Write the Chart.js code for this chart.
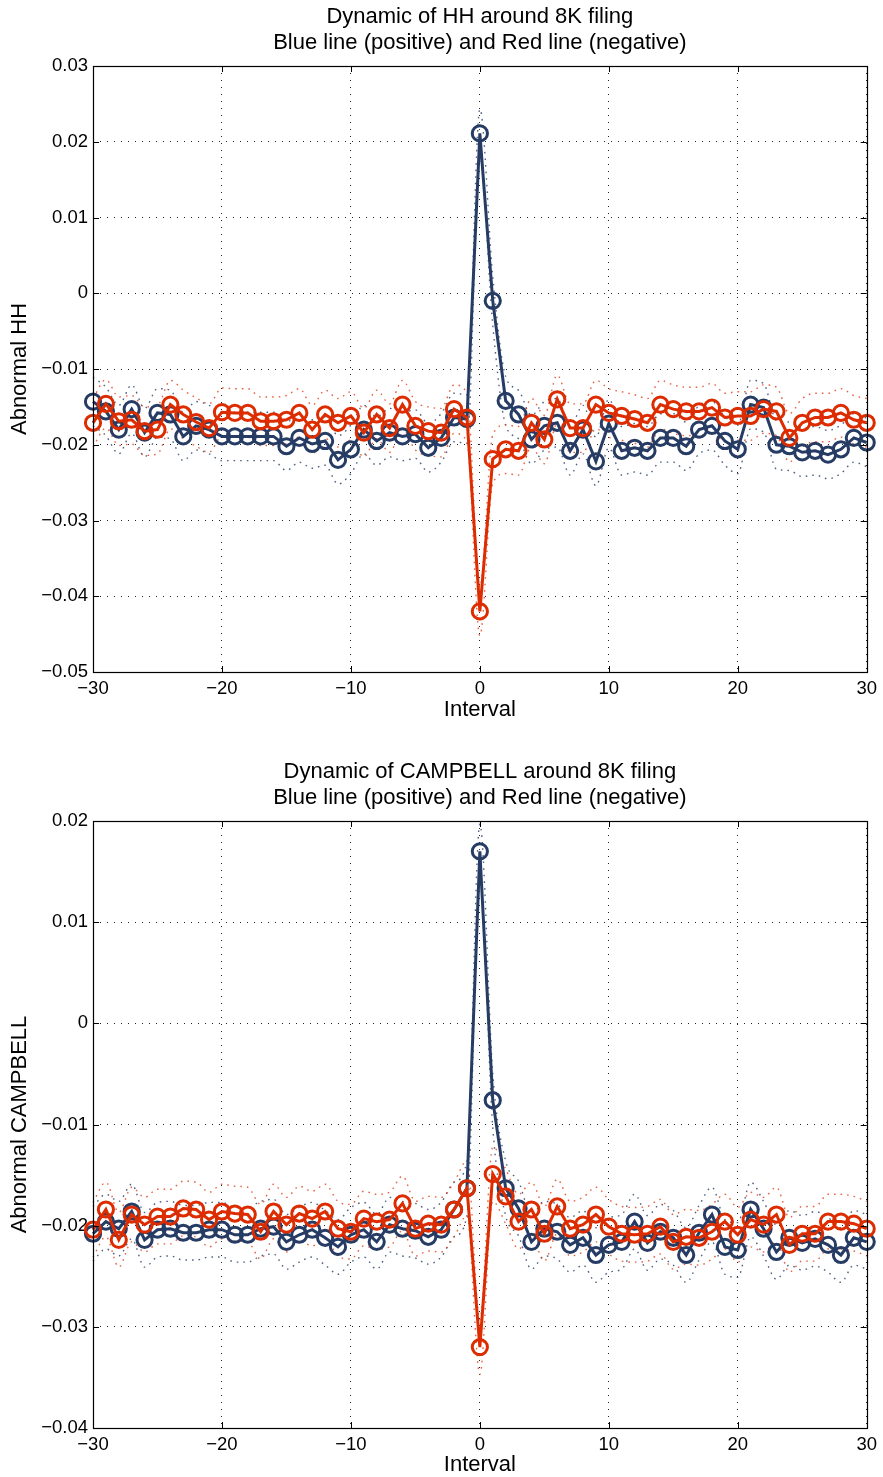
<!DOCTYPE html>
<html>
<head>
<meta charset="utf-8">
<script src="https://cdn.jsdelivr.net/npm/chart.js@4.4.1/dist/chart.umd.min.js"></script>
<style>
  html, body { margin: 0; padding: 0; background: #ffffff; }
  body { width: 883px; height: 1477px; position: relative; overflow: hidden; }
  .wrap { position: absolute; left: 0; width: 883px; height: 722px; }
  #w1 { top: 0px; }
  #w2 { top: 755px; }
</style>
</head>
<body>
<div class="wrap" id="w1"><canvas id="c1"></canvas></div>
<div class="wrap" id="w2"><canvas id="c2"></canvas></div>
<script>
// ---------- data ----------
const intervals = [-30,-29,-28,-27,-26,-25,-24,-23,-22,-21,-20,-19,-18,-17,-16,-15,-14,-13,-12,-11,-10,-9,-8,-7,-6,-5,-4,-3,-2,-1,0,1,2,3,4,5,6,7,8,9,10,11,12,13,14,15,16,17,18,19,20,21,22,23,24,25,26,27,28,29,30];
const xTickValues = [-30, -20, -10, 0, 10, 20, 30];
const hhYTickValues = [-0.05, -0.04, -0.03, -0.02, -0.01, 0, 0.01, 0.02, 0.03];
const cbYTickValues = [-0.04, -0.03, -0.02, -0.01, 0, 0.01, 0.02];

const hhTitle = ['Dynamic of HH around 8K filing', 'Blue line (positive) and Red line (negative)'];
const cbTitle = ['Dynamic of CAMPBELL around 8K filing', 'Blue line (positive) and Red line (negative)'];

// HH (top chart)
const hhBlue = [-0.0143,-0.0156,-0.0180,-0.0153,-0.0184,-0.0158,-0.0160,-0.0189,-0.0175,-0.0180,
  -0.0189,-0.0189,-0.0189,-0.0189,-0.0189,-0.0202,-0.0191,-0.0199,-0.0195,-0.0220,
  -0.0206,-0.0180,-0.0195,-0.0184,-0.0189,-0.0186,-0.0204,-0.0191,-0.0164,-0.0166,
  0.0211,
  -0.0010,-0.0142,-0.0160,-0.0193,-0.0175,-0.0171,-0.0208,-0.0180,-0.0222,-0.0172,
  -0.0208,-0.0204,-0.0208,-0.0191,-0.0191,-0.0202,-0.0180,-0.0175,-0.0195,-0.0206,
  -0.0147,-0.0151,-0.0200,-0.0202,-0.0210,-0.0208,-0.0213,-0.0206,-0.0191,-0.0197];
const hhRed = [-0.0171,-0.0146,-0.0169,-0.0167,-0.0182,-0.0180,-0.0147,-0.0160,-0.0170,-0.0178,
  -0.0157,-0.0158,-0.0158,-0.0169,-0.0169,-0.0167,-0.0158,-0.0180,-0.0160,-0.0171,
  -0.0162,-0.0184,-0.0160,-0.0178,-0.0147,-0.0175,-0.0182,-0.0184,-0.0153,-0.0164,
  -0.0420,
  -0.0219,-0.0206,-0.0208,-0.0171,-0.0193,-0.0140,-0.0178,-0.0178,-0.0147,-0.0158,
  -0.0162,-0.0166,-0.0171,-0.0147,-0.0153,-0.0156,-0.0156,-0.0151,-0.0164,-0.0162,
  -0.0162,-0.0153,-0.0156,-0.0191,-0.0171,-0.0164,-0.0164,-0.0158,-0.0167,-0.0171];
const hhBlueHi = [-0.0111,-0.0124,-0.0148,-0.0121,-0.0152,-0.0126,-0.0128,-0.0157,-0.0143,-0.0148,
  -0.0157,-0.0157,-0.0157,-0.0157,-0.0157,-0.0170,-0.0159,-0.0167,-0.0163,-0.0188,
  -0.0174,-0.0148,-0.0163,-0.0152,-0.0157,-0.0154,-0.0172,-0.0159,-0.0132,-0.0134,
  0.0243,
  0.0022,-0.0110,-0.0128,-0.0161,-0.0143,-0.0139,-0.0176,-0.0148,-0.0190,-0.0140,
  -0.0176,-0.0172,-0.0176,-0.0159,-0.0159,-0.0170,-0.0148,-0.0143,-0.0163,-0.0174,
  -0.0115,-0.0119,-0.0168,-0.0170,-0.0178,-0.0176,-0.0181,-0.0174,-0.0159,-0.0165];
const hhBlueLo = [-0.0175,-0.0188,-0.0212,-0.0185,-0.0216,-0.0190,-0.0192,-0.0221,-0.0207,-0.0212,
  -0.0221,-0.0221,-0.0221,-0.0221,-0.0221,-0.0234,-0.0223,-0.0231,-0.0227,-0.0252,
  -0.0238,-0.0212,-0.0227,-0.0216,-0.0221,-0.0218,-0.0236,-0.0223,-0.0196,-0.0198,
  0.0179,
  -0.0042,-0.0174,-0.0192,-0.0225,-0.0207,-0.0203,-0.0240,-0.0212,-0.0254,-0.0204,
  -0.0240,-0.0236,-0.0240,-0.0223,-0.0223,-0.0234,-0.0212,-0.0207,-0.0227,-0.0238,
  -0.0179,-0.0183,-0.0232,-0.0234,-0.0242,-0.0240,-0.0245,-0.0238,-0.0223,-0.0229];
const hhRedHi = [-0.0139,-0.0114,-0.0137,-0.0135,-0.0150,-0.0148,-0.0115,-0.0128,-0.0138,-0.0146,
  -0.0125,-0.0126,-0.0126,-0.0137,-0.0137,-0.0135,-0.0126,-0.0148,-0.0128,-0.0139,
  -0.0130,-0.0152,-0.0128,-0.0146,-0.0115,-0.0143,-0.0150,-0.0152,-0.0121,-0.0132,
  -0.0388,
  -0.0187,-0.0174,-0.0176,-0.0139,-0.0161,-0.0108,-0.0146,-0.0146,-0.0115,-0.0126,
  -0.0130,-0.0134,-0.0139,-0.0115,-0.0121,-0.0124,-0.0124,-0.0119,-0.0132,-0.0130,
  -0.0130,-0.0121,-0.0124,-0.0159,-0.0139,-0.0132,-0.0132,-0.0126,-0.0135,-0.0139];
const hhRedLo = [-0.0203,-0.0178,-0.0201,-0.0199,-0.0214,-0.0212,-0.0179,-0.0192,-0.0202,-0.0210,
  -0.0189,-0.0190,-0.0190,-0.0201,-0.0201,-0.0199,-0.0190,-0.0212,-0.0192,-0.0203,
  -0.0194,-0.0216,-0.0192,-0.0210,-0.0179,-0.0207,-0.0214,-0.0216,-0.0185,-0.0196,
  -0.0452,
  -0.0251,-0.0238,-0.0240,-0.0203,-0.0225,-0.0172,-0.0210,-0.0210,-0.0179,-0.0190,
  -0.0194,-0.0198,-0.0203,-0.0179,-0.0185,-0.0188,-0.0188,-0.0183,-0.0196,-0.0194,
  -0.0194,-0.0185,-0.0188,-0.0223,-0.0203,-0.0196,-0.0196,-0.0190,-0.0199,-0.0203];

// CAMPBELL (bottom chart)
const cbBlue = [-0.0208,-0.0196,-0.0203,-0.0186,-0.0214,-0.0204,-0.0203,-0.0207,-0.0207,-0.0204,
  -0.0204,-0.0209,-0.0209,-0.0203,-0.0201,-0.0216,-0.0209,-0.0204,-0.0212,-0.0221,
  -0.0209,-0.0204,-0.0216,-0.0199,-0.0203,-0.0205,-0.0211,-0.0204,-0.0184,-0.0163,
  0.0170,
  -0.0076,-0.0163,-0.0183,-0.0216,-0.0203,-0.0206,-0.0219,-0.0212,-0.0229,-0.0219,
  -0.0216,-0.0196,-0.0217,-0.0206,-0.0212,-0.0229,-0.0207,-0.0189,-0.0221,-0.0224,
  -0.0184,-0.0203,-0.0226,-0.0212,-0.0217,-0.0213,-0.0219,-0.0229,-0.0212,-0.0216];
const cbRed = [-0.0204,-0.0184,-0.0214,-0.0189,-0.0199,-0.0191,-0.0191,-0.0183,-0.0184,-0.0194,
  -0.0186,-0.0188,-0.0189,-0.0206,-0.0186,-0.0199,-0.0188,-0.0193,-0.0186,-0.0203,
  -0.0206,-0.0193,-0.0196,-0.0194,-0.0178,-0.0203,-0.0198,-0.0199,-0.0184,-0.0163,
  -0.0320,
  -0.0149,-0.0171,-0.0196,-0.0184,-0.0208,-0.0181,-0.0203,-0.0199,-0.0189,-0.0201,
  -0.0208,-0.0209,-0.0208,-0.0201,-0.0216,-0.0211,-0.0212,-0.0206,-0.0196,-0.0209,
  -0.0194,-0.0199,-0.0189,-0.0219,-0.0208,-0.0208,-0.0196,-0.0196,-0.0198,-0.0203];
const cbBlueHi = [-0.0181,-0.0169,-0.0176,-0.0159,-0.0187,-0.0177,-0.0176,-0.0180,-0.0180,-0.0177,
  -0.0177,-0.0182,-0.0182,-0.0176,-0.0174,-0.0189,-0.0182,-0.0177,-0.0185,-0.0194,
  -0.0182,-0.0177,-0.0189,-0.0172,-0.0176,-0.0178,-0.0184,-0.0177,-0.0157,-0.0136,
  0.0197,
  -0.0049,-0.0136,-0.0156,-0.0189,-0.0176,-0.0179,-0.0192,-0.0185,-0.0202,-0.0192,
  -0.0189,-0.0169,-0.0190,-0.0179,-0.0185,-0.0202,-0.0180,-0.0162,-0.0194,-0.0197,
  -0.0157,-0.0176,-0.0199,-0.0185,-0.0190,-0.0186,-0.0192,-0.0202,-0.0185,-0.0189];
const cbBlueLo = [-0.0235,-0.0223,-0.0230,-0.0213,-0.0241,-0.0231,-0.0230,-0.0234,-0.0234,-0.0231,
  -0.0231,-0.0236,-0.0236,-0.0230,-0.0228,-0.0243,-0.0236,-0.0231,-0.0239,-0.0248,
  -0.0236,-0.0231,-0.0243,-0.0226,-0.0230,-0.0232,-0.0238,-0.0231,-0.0211,-0.0190,
  0.0143,
  -0.0103,-0.0190,-0.0210,-0.0243,-0.0230,-0.0233,-0.0246,-0.0239,-0.0256,-0.0246,
  -0.0243,-0.0223,-0.0244,-0.0233,-0.0239,-0.0256,-0.0234,-0.0216,-0.0248,-0.0251,
  -0.0211,-0.0230,-0.0253,-0.0239,-0.0244,-0.0240,-0.0246,-0.0256,-0.0239,-0.0243];
const cbRedHi = [-0.0177,-0.0157,-0.0187,-0.0162,-0.0172,-0.0164,-0.0164,-0.0156,-0.0157,-0.0167,
  -0.0159,-0.0161,-0.0162,-0.0179,-0.0159,-0.0172,-0.0161,-0.0166,-0.0159,-0.0176,
  -0.0179,-0.0166,-0.0169,-0.0167,-0.0151,-0.0176,-0.0171,-0.0172,-0.0157,-0.0136,
  -0.0293,
  -0.0122,-0.0144,-0.0169,-0.0157,-0.0181,-0.0154,-0.0176,-0.0172,-0.0162,-0.0174,
  -0.0181,-0.0182,-0.0181,-0.0174,-0.0189,-0.0184,-0.0185,-0.0179,-0.0169,-0.0182,
  -0.0167,-0.0172,-0.0162,-0.0192,-0.0181,-0.0181,-0.0169,-0.0169,-0.0171,-0.0176];
const cbRedLo = [-0.0231,-0.0211,-0.0241,-0.0216,-0.0226,-0.0218,-0.0218,-0.0210,-0.0211,-0.0221,
  -0.0213,-0.0215,-0.0216,-0.0233,-0.0213,-0.0226,-0.0215,-0.0220,-0.0213,-0.0230,
  -0.0233,-0.0220,-0.0223,-0.0221,-0.0205,-0.0230,-0.0225,-0.0226,-0.0211,-0.0190,
  -0.0347,
  -0.0176,-0.0198,-0.0223,-0.0211,-0.0235,-0.0208,-0.0230,-0.0226,-0.0216,-0.0228,
  -0.0235,-0.0236,-0.0235,-0.0228,-0.0243,-0.0238,-0.0239,-0.0233,-0.0223,-0.0236,
  -0.0221,-0.0226,-0.0216,-0.0246,-0.0235,-0.0235,-0.0223,-0.0223,-0.0225,-0.0230];

// ---------- styling ----------
const FONT = '"Liberation Sans", Arial, Helvetica, sans-serif';
const BLUE = '#263c64';
const RED = '#dc2c00';
const BLUE_BAND = 'rgba(38,60,100,0.8)';
const RED_BAND = 'rgba(225,60,20,0.8)';

function pts(ys) { return intervals.map((x, i) => ({ x: x, y: ys[i] })); }

function fmtNum(v) {
  const r = Math.round(v * 100) / 100;
  if (r === 0) return '0';
  const s = Number.isInteger(r) ? String(r) : r.toFixed(2);
  return s.replace('-', '\u2212');
}
function fmtInt(v) {
  const r = Math.round(v);
  return r < 0 ? '\u2212' + Math.abs(r) : String(r);
}

const boxPlugin = {
  id: 'matlabBox',
  afterDraw(chart) {
    const { ctx, chartArea: a, scales } = chart;
    const xs = scales.x, ys = scales.y;
    ctx.save();
    ctx.setLineDash([]);
    ctx.strokeStyle = '#000';
    ctx.lineWidth = 1;
    ctx.beginPath();
    xs.ticks.forEach(t => {
      const px = Math.round(xs.getPixelForValue(t.value)) + 0.5;
      ctx.moveTo(px, a.bottom); ctx.lineTo(px, a.bottom - 6);
      ctx.moveTo(px, a.top); ctx.lineTo(px, a.top + 6);
    });
    ys.ticks.forEach(t => {
      const py = Math.round(ys.getPixelForValue(t.value)) + 0.5;
      ctx.moveTo(a.left, py); ctx.lineTo(a.left + 6, py);
      ctx.moveTo(a.right, py); ctx.lineTo(a.right - 6, py);
    });
    ctx.stroke();
    ctx.lineWidth = 1.2;
    ctx.strokeRect(Math.round(a.left) + 0.5, Math.round(a.top) + 0.5,
                   Math.round(a.right - a.left), Math.round(a.bottom - a.top));
    ctx.restore();
  }
};

function bandDs(ys, color) {
  return {
    data: pts(ys), borderColor: color, borderWidth: 1.4, borderDash: [1.6, 5],
    pointRadius: 0, fill: false, cubicInterpolationMode: 'monotone', order: 5, clip: false
  };
}
function seriesDs(ys, color, order) {
  return {
    data: pts(ys), borderColor: color, borderWidth: 3, tension: 0,
    pointRadius: 7.6, pointBorderWidth: 3, pointBorderColor: color,
    pointBackgroundColor: 'rgba(0,0,0,0)', pointStyle: 'circle',
    fill: false, order: order, clip: false
  };
}

function makeChart(id, cfg) {
  return new Chart(document.getElementById(id), {
    type: 'line',
    data: {
      datasets: [
        seriesDs(cfg.red, RED, 0),
        seriesDs(cfg.blue, BLUE, 1),
        bandDs(cfg.redHi, RED_BAND),
        bandDs(cfg.redLo, RED_BAND),
        bandDs(cfg.blueHi, BLUE_BAND),
        bandDs(cfg.blueLo, BLUE_BAND)
      ]
    },
    options: {
      responsive: true,
      maintainAspectRatio: false,
      animation: false,
      events: [],
      layout: { padding: { left: 0, right: 16, top: 0, bottom: 0 } },
      plugins: {
        legend: { display: false },
        tooltip: { enabled: false },
        title: {
          display: true, text: cfg.title, fullSize: false, color: '#000',
          font: { family: FONT, size: 22, weight: 'normal', lineHeight: '26px' },
          padding: { top: cfg.titleTop, bottom: 66 - 52 - cfg.titleTop }
        }
      },
      scales: {
        x: {
          type: 'linear', min: -30, max: 30,
          afterBuildTicks: (s) => { s.ticks = xTickValues.map(v => ({ value: v })); },
          afterFit: (s) => { s.height = cfg.xAxisH; },
          ticks: {
            color: '#000', padding: 6, maxRotation: 0, autoSkip: false,
            font: { family: FONT, size: 18.5 }, callback: (v) => fmtInt(v)
          },
          grid: { color: '#222', lineWidth: 1, drawTicks: false },
          border: { display: false, dash: [1, 6] },
          title: {
            display: true, text: 'Interval', color: '#000',
            font: { family: FONT, size: 22, lineHeight: 1.1 }, padding: { top: 0, bottom: 0 }
          }
        },
        y: {
          type: 'linear', min: cfg.yMin, max: cfg.yMax,
          afterBuildTicks: (s) => { s.ticks = cfg.yTicks.map(v => ({ value: v })); },
          afterFit: (s) => { s.width = 93; },
          ticks: {
            color: '#000', padding: 5, autoSkip: false,
            font: { family: FONT, size: 18.5 }, callback: (v) => fmtNum(v)
          },
          grid: { color: '#222', lineWidth: 1, drawTicks: false },
          border: { display: false, dash: [1, 6] },
          title: {
            display: true, text: cfg.yLabel, color: '#000',
            font: { family: FONT, size: 22, lineHeight: 1.2 }, padding: { top: 7, bottom: 0 }
          }
        }
      }
    },
    plugins: [boxPlugin]
  });
}

makeChart('c1', {
  title: hhTitle, titleTop: 4, xAxisH: 50, yLabel: 'Abnormal HH',
  yMin: -0.05, yMax: 0.03, yTicks: hhYTickValues,
  blue: hhBlue, red: hhRed, blueHi: hhBlueHi, blueLo: hhBlueLo, redHi: hhRedHi, redLo: hhRedLo
});
makeChart('c2', {
  title: cbTitle, titleTop: 3.5, xAxisH: 49, yLabel: 'Abnormal CAMPBELL',
  yMin: -0.04, yMax: 0.02, yTicks: cbYTickValues,
  blue: cbBlue, red: cbRed, blueHi: cbBlueHi, blueLo: cbBlueLo, redHi: cbRedHi, redLo: cbRedLo
});
</script>
</body>
</html>
